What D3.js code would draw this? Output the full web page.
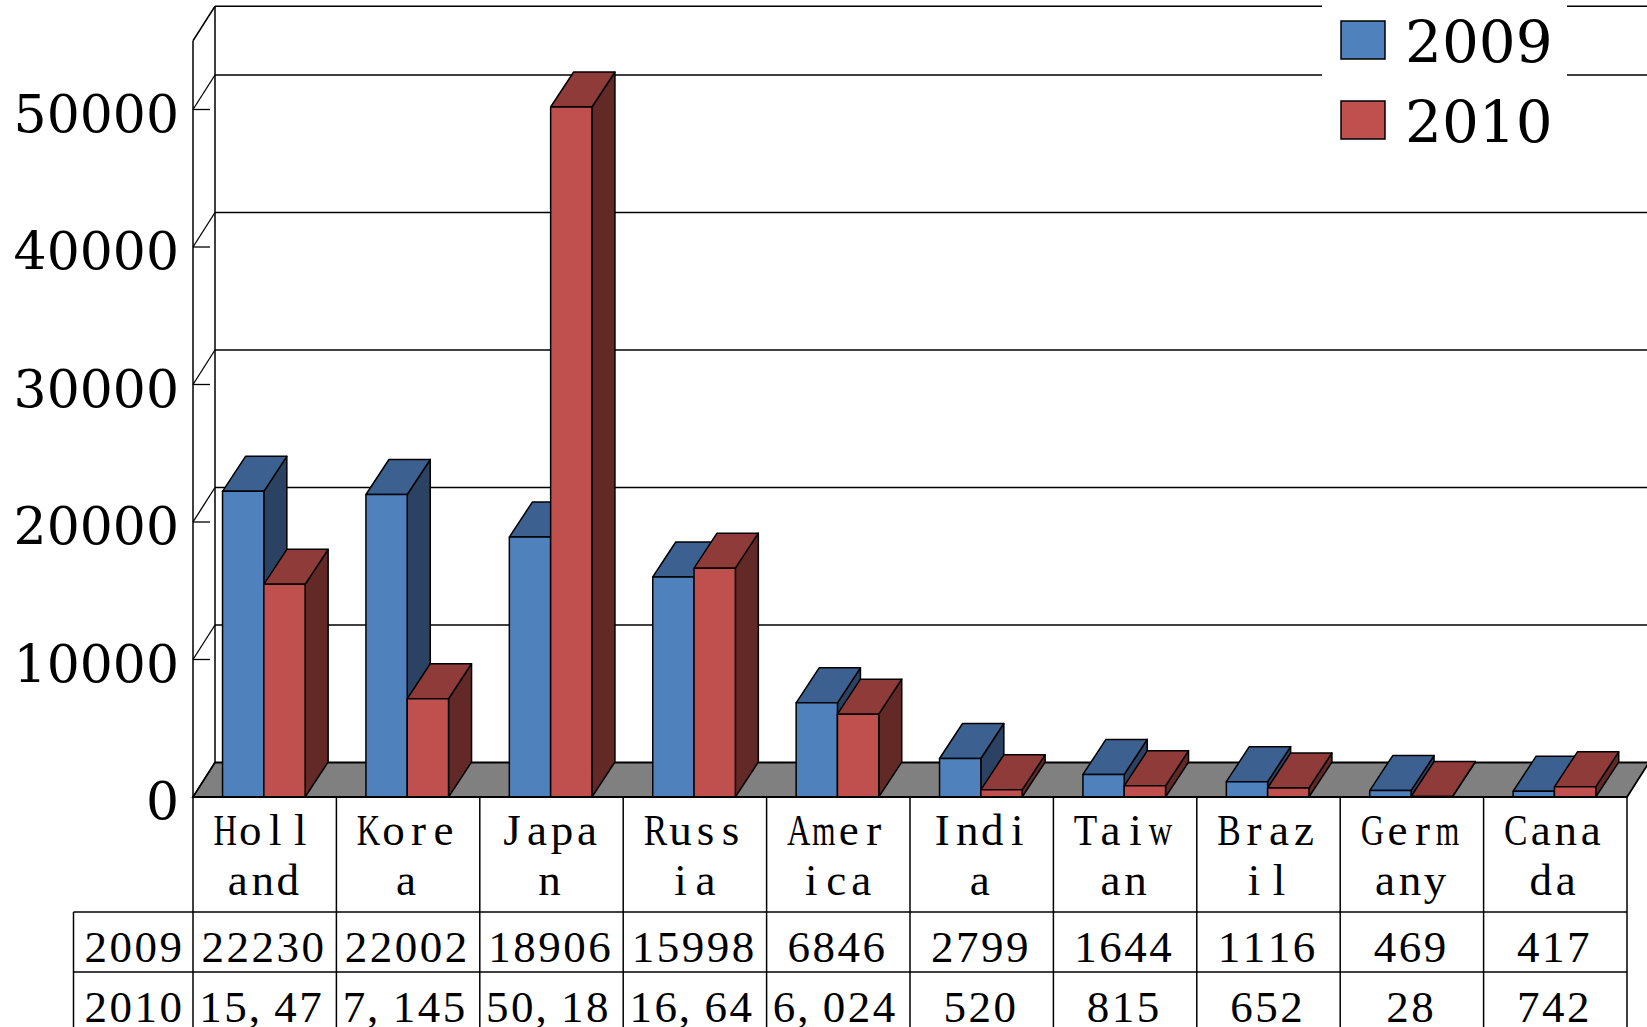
<!DOCTYPE html>
<html><head><meta charset="utf-8">
<script src="https://cdn.jsdelivr.net/npm/d3@7"></script>
<style>html,body{margin:0;padding:0;background:#fff;overflow:hidden}</style>
</head><body>
<svg id="chart" width="1647" height="1027"></svg>
<script>
const categories = ["Holland","Korea","Japan","Russia","America","India","Taiwan","Brazil","Germany","Canada"];
const seriesNames = ["2009","2010"];
const values2009 = [22230,22002,18906,15998,6846,2799,1644,1116,469,417];
const values2010 = [15470,7145,50180,16640,6024,520,815,652,28,742];
const labels2009 = ["22230","22002","18906","15998","6846","2799","1644","1116","469","417"];
const labels2010 = ["15, 47","7, 145","50, 18","16, 64","6, 024","520","815","652","28","742"];
const yTicks = [0,10000,20000,30000,40000,50000];
const yMax = 55000;

const colors = {
  "2009": {front:"#4F81BD", top:"#3C6190", side:"#2B4262"},
  "2010": {front:"#C0504D", top:"#8E3B39", side:"#632927"}
};

const svg = d3.select("#chart");
const W = 1647, H = 1027;
const left = 193, right = 1627, baseY = 797, topY = 40.75;
const WDX = 22, WDY = 34.5;   // wall depth
const BDX = 23, BDY = 35;     // bar depth
const tableLeft = 73.5, headerBottom = 912, row1Bottom = 972;

const x = d3.scaleBand().domain(categories).range([left, right]).paddingInner(0).paddingOuter(0);
const bw = x.bandwidth();
const xs = d3.scaleBand().domain(seriesNames).range([bw*0.206, bw*0.206 + bw*0.576]).padding(0);
const y = d3.scaleLinear().domain([0, yMax]).range([baseY, topY]);

const line = (x1,y1,x2,y2,w=1.5) => svg.append("line").attr("x1",x1).attr("y1",y1).attr("x2",x2).attr("y2",y2)
  .attr("stroke","#000").attr("stroke-width",w);

// back wall and grid
const backRight = W + 10;
line(left+WDX, y(yMax)-WDY, left+WDX, y(0)-WDY);
line(left+WDX, y(yMax)-WDY, backRight, y(yMax)-WDY);
line(left, y(yMax), left+WDX, y(yMax)-WDY);
yTicks.forEach(t => {
  if (t > 0) line(left+WDX, y(t)-WDY, backRight, y(t)-WDY, 1.3);
  line(left, y(t), left+WDX, y(t)-WDY, 1.3);
  line(left, y(t), left+17, y(t), 1.3);
});
line(left, y(yMax), left, H+5);

// floor
svg.append("polygon")
  .attr("points", [[left,baseY],[right,baseY],[right+WDX,baseY-WDY],[left+WDX,baseY-WDY]].map(p=>p.join(",")).join(" "))
  .attr("fill","#808080").attr("stroke","#000").attr("stroke-width",1.8);

// bars
const series = [{name:"2009", values: values2009},{name:"2010", values: values2010}];
categories.forEach((c, i) => {
  series.forEach(s => {
    const v = s.values[i];
    const x0 = x(c) + xs(s.name), w = xs.bandwidth();
    const yt = y(v), col = colors[s.name];
    const g = svg.append("g").attr("stroke","#000").attr("stroke-width",1.5).attr("stroke-linejoin","round");
    g.append("polygon").attr("fill",col.side)
      .attr("points", [[x0+w,yt],[x0+w+BDX,yt-BDY],[x0+w+BDX,baseY-BDY],[x0+w,baseY]].map(p=>p.join(",")).join(" "));
    g.append("polygon").attr("fill",col.top)
      .attr("points", [[x0,yt],[x0+w,yt],[x0+w+BDX,yt-BDY],[x0+BDX,yt-BDY]].map(p=>p.join(",")).join(" "));
    g.append("rect").attr("x",x0).attr("y",yt).attr("width",w).attr("height",Math.max(0,baseY-yt)).attr("fill",col.front);
  });
});
line(left, baseY, right, baseY, 2);

// y labels
svg.append("g").selectAll("text").data(yTicks).join("text")
  .attr("x",179).attr("y",d=>y(d)+22).attr("text-anchor","end")
  .attr("font-family","'DejaVu Serif', serif").attr("font-size",52).attr("fill","#000")
  .text(d=>d);

// table grid
x.domain().forEach(c => line(x(c)+bw, baseY, x(c)+bw, H+5, 1.5));
line(tableLeft, headerBottom, right, headerBottom, 1.5);
line(tableLeft, row1Bottom, right, row1Bottom, 1.5);
line(tableLeft, headerBottom, tableLeft, H+5, 1.5);

// monospaced-cell text drawn with a serif font: each glyph centred in a 25px cell
const CELL = 25;
const serif = "'Liberation Serif', 'Times New Roman', serif";
const tg = svg.append("g").attr("class","table-text");
function charWidth(ch){ return (ch === "," || ch === " ") ? CELL/2 : CELL; }
function cellText(str, cx, by, colStart){
  const chars = str.split("");
  const total = d3.sum(chars, charWidth);
  let start = str.length > 5 ? colStart + 5 : cx - total/2 - 2;
  chars.forEach(ch => {
    const w = charWidth(ch);
    const c = start + w/2; start += w;
    if (ch === " ") return;
    const t = tg.append("text").attr("font-family",serif).attr("font-size",45).attr("fill","#000")
      .attr("text-anchor","middle").attr("x",0).attr("y",0).text(ch);
    const len = t.node().getComputedTextLength();
    const s = len > CELL - 1.5 ? (CELL - 1.5)/len : 1;
    t.attr("transform", `translate(${c.toFixed(2)},${by}) scale(${s.toFixed(3)},1)`);
  });
}
categories.forEach((c,i) => {
  const cx = x(c) + bw/2;
  cellText(c.slice(0,4), cx, 845, x(c));
  cellText(c.slice(4), cx, 895, x(c));
  cellText(labels2009[i], cx, headerBottom+50, x(c));
  cellText(labels2010[i], cx, row1Bottom+50, x(c));
});
const lc = (tableLeft+left)/2;
cellText(seriesNames[0], lc+2, headerBottom+50, tableLeft);
cellText(seriesNames[1], lc+2, row1Bottom+50, tableLeft);

// legend
const lg = svg.append("g");
lg.append("rect").attr("x",1322).attr("y",0).attr("width",245).attr("height",150).attr("fill","#fff");
seriesNames.forEach((s,i) => {
  const yy = 21 + i*80;
  lg.append("rect").attr("x",1341).attr("y",yy).attr("width",44).attr("height",38)
    .attr("fill",colors[s].front).attr("stroke","#000").attr("stroke-width",1.5);
  lg.append("text").attr("x",1405).attr("y",yy+41).attr("font-family","'DejaVu Serif', serif")
    .attr("font-size",58).attr("fill","#000").text(s);
});
</script>
</body></html>
